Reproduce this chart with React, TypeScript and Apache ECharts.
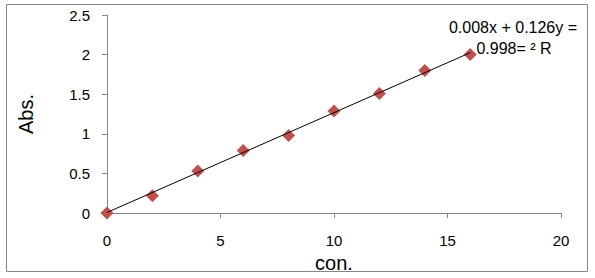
import React, { useEffect, useRef } from "react";
import * as echarts from "echarts";

const conc = [0, 2, 4, 6, 8, 10, 12, 14, 16];
const abs = [0, 0.22, 0.53, 0.79, 0.98, 1.29, 1.51, 1.8, 2.0];
const trendX = [0, 16];
const trendY = [0.008, 2.024];
const equationLines = ["0.008x + 0.126y =", "0.998= ² R"];

const FONT = "'Liberation Sans', Arial, sans-serif";
const AXIS_GRAY = "#868686";

export default function App() {
  const ref = useRef<HTMLDivElement>(null);
  useEffect(() => {
    document.body.style.margin = "0";
    const chart = echarts.init(ref.current!, null, { renderer: "svg" });
    chart.setOption({
      animation: false,
      backgroundColor: "#fff",
      textStyle: { fontFamily: FONT },
      grid: { left: 107, top: 15, right: 34, bottom: 61, containLabel: false },
      xAxis: {
        type: "value",
        min: 0,
        max: 20,
        interval: 5,
        name: "con.",
        nameLocation: "middle",
        nameGap: 38,
        nameTextStyle: { fontSize: 20, color: "#000", fontFamily: FONT },
        axisLine: { show: true, onZero: false, lineStyle: { color: AXIS_GRAY, width: 1 } },
        axisTick: { show: true, inside: false, length: 5, lineStyle: { color: AXIS_GRAY } },
        axisLabel: { fontSize: 15, color: "#000", margin: 20, fontFamily: FONT },
        splitLine: { show: false },
      },
      yAxis: {
        type: "value",
        min: 0,
        max: 2.5,
        interval: 0.5,
        name: "Abs.",
        nameLocation: "middle",
        nameGap: 71,
        nameRotate: 90,
        nameTextStyle: { fontSize: 20, color: "#000", fontFamily: FONT },
        axisLine: { show: true, lineStyle: { color: AXIS_GRAY, width: 1 } },
        axisTick: { show: true, inside: false, length: 5, lineStyle: { color: AXIS_GRAY } },
        axisLabel: { fontSize: 15, color: "#000", margin: 17, fontFamily: FONT },
        splitLine: { show: false },
      },
      series: [
        {
          type: "line",
          data: trendX.map((x, i) => [x, trendY[i]]),
          symbol: "none",
          lineStyle: { color: "#000", width: 1 },
          z: 3,
        },
        {
          type: "scatter",
          data: conc.map((x, i) => [x, abs[i]]),
          symbol: "diamond",
          symbolSize: 13,
          itemStyle: { color: "#C0504D", opacity: 1 },
          z: 2,
        },
      ],
      graphic: [
        {
          type: "rect",
          shape: { x: 6.5, y: 4.5, width: 581, height: 267 },
          style: { fill: "none", stroke: AXIS_GRAY, lineWidth: 1 },
          silent: true,
        },
        {
          type: "text",
          x: 513,
          y: 27,
          style: {
            text: equationLines[0],
            fontSize: 16,
            fontFamily: FONT,
            fill: "#000",
            textAlign: "center",
            textVerticalAlign: "middle",
          },
        },
        {
          type: "text",
          x: 514,
          y: 48,
          style: {
            text: equationLines[1],
            fontSize: 16,
            fontFamily: FONT,
            fill: "#000",
            textAlign: "center",
            textVerticalAlign: "middle",
          },
        },
      ],
    });
    return () => chart.dispose();
  }, []);
  return <div ref={ref} style={{ width: 595, height: 278 }} />;
}
